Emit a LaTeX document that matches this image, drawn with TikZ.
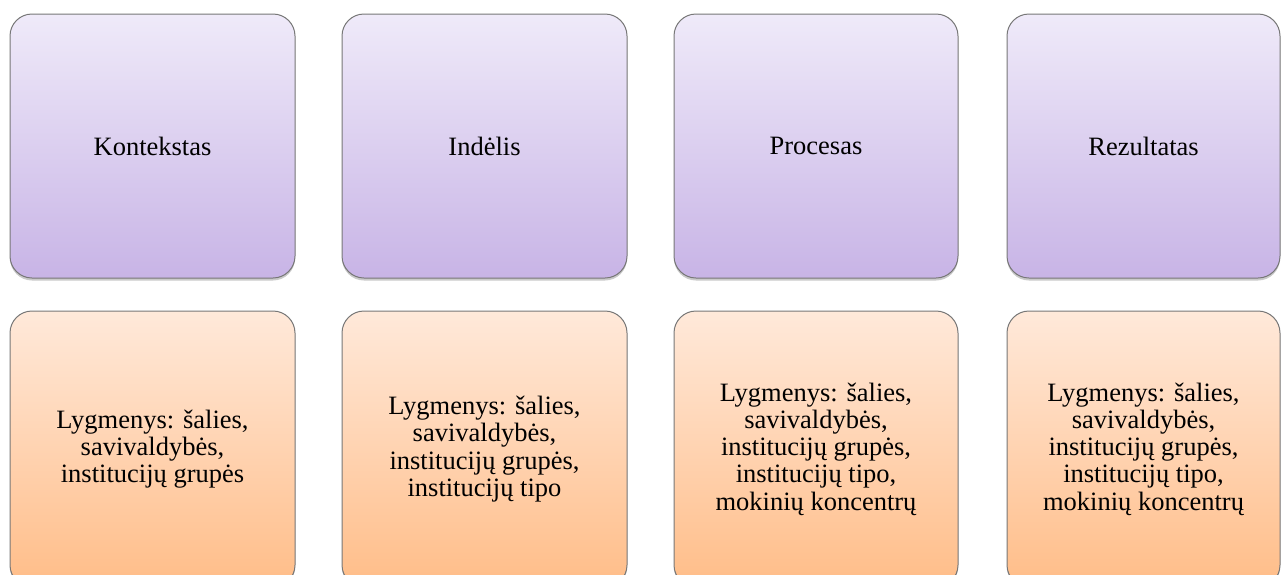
\documentclass[tikz,border=0pt]{standalone}
\usepackage{fontspec}
\setmainfont{Liberation Serif}
\usetikzlibrary{shadows}
\definecolor{lilactop}{HTML}{EFEAF9}
\definecolor{lilacbot}{HTML}{C8B4E6}
\definecolor{peachtop}{HTML}{FFE9DA}
\definecolor{peachbot}{HTML}{FFBD88}
\definecolor{edgegray}{HTML}{777777}
\tikzset{
    card/.style={draw=edgegray, line width=1pt, rounded corners=22pt,
        align=center, inner sep=0pt,
        font=\fontsize{26.5}{27.3}\selectfont,
        drop shadow={shadow xshift=0pt, shadow yshift=-2.5pt, opacity=0.35, fill=black!60}},
    topcard/.style={card, top color=lilactop, bottom color=lilacbot,
        minimum height=264pt},
    levelcard/.style={card, top color=peachtop, bottom color=peachbot,
        minimum height=276pt}
}
\begin{document}
\begin{tikzpicture}[x=1pt,y=1pt]
        %% Frame
        \useasboundingbox (0,0) rectangle (1282,-574);
        \clip (0,0) rectangle (1282,-574);
        %% Stages
        \node[topcard, minimum width=285pt] (ctx)  at (152.5,-146) {Kontekstas};
        \node[topcard, minimum width=285pt] (inp)  at (484.5,-146) {Indėlis};
        \node[topcard, minimum width=284pt] (proc) at (816,-146)   {Procesas};
        \node[topcard, minimum width=273pt] (res)  at (1143.5,-146) {Rezultatas};
        %% Levels
        \node[levelcard, minimum width=285pt] (lvlctx)  at (152.5,-449)
            {Lygmenys: šalies,\\ savivaldybės,\\ institucijų grupės};
        \node[levelcard, minimum width=285pt] (lvlinp)  at (484.5,-449)
            {Lygmenys: šalies,\\ savivaldybės,\\ institucijų grupės,\\ institucijų tipo};
        \node[levelcard, minimum width=284pt] (lvlproc) at (816,-449)
            {Lygmenys: šalies,\\ savivaldybės,\\ institucijų grupės,\\ institucijų tipo,\\ mokinių koncentrų};
        \node[levelcard, minimum width=273pt] (lvlres)  at (1143.5,-449)
            {Lygmenys: šalies,\\ savivaldybės,\\ institucijų grupės,\\ institucijų tipo,\\ mokinių koncentrų};
    \end{tikzpicture}
\end{document}
